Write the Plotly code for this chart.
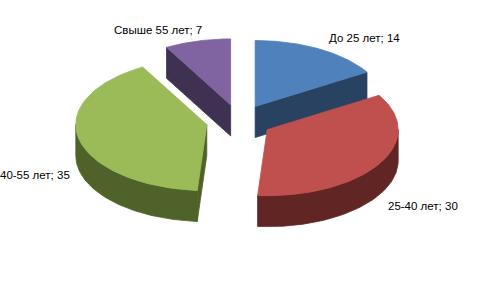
import numpy as np
import plotly.graph_objects as go

# Data
categories = ["До 25 лет", "25-40 лет", "40-55 лет", "Свыше 55 лет"]
values = [14, 30, 35, 7]

top_colors = ["#4F81BD", "#C0504D", "#9BBB59", "#8064A2"]
side_colors = ["#2A4262", "#612624", "#4F6229", "#3F3152"]

# Geometry of the projected 3D pie (pixel units)
W, H = 491, 287
CX, CY = 239, 121
RX, RY = 131, 66
DEPTH = 31
EXPLODE = 33
K = RY / RX

# Label positions (layout): x, y, anchor, pixel shift
label_pos = [(364, 38, "center", 0), (423, 206, "center", 0), (0, 175, "left", -2), (158, 30, "center", 0)]

total = sum(values)
angles = np.cumsum([0] + [v / total * 360 for v in values])

fig = go.Figure()


def pt(cx, cy, th, dz=0.0):
    r = np.radians(th)
    return cx + RX * np.sin(r), cy - RY * np.cos(r) + dz


def add_poly(xs, ys, color):
    fig.add_trace(go.Scatter(x=list(xs) + [xs[0]], y=list(ys) + [ys[0]], mode="lines",
                             fill="toself", fillcolor=color,
                             line=dict(color=color, width=0.8),
                             hoverinfo="skip", showlegend=False))


# drawing order: back slices first
order = sorted(range(len(values)),
               key=lambda i: -np.cos(np.radians((angles[i] + angles[i + 1]) / 2)))

for i in order:
    a0, a1 = angles[i], angles[i + 1]
    mid = np.radians((a0 + a1) / 2)
    cx = CX + EXPLODE * np.sin(mid)
    cy = CY - EXPLODE * K * np.cos(mid)
    sc = side_colors[i]
    # outer rim (front portion 90..270)
    lo, hi = max(a0, 90), min(a1, 270)
    if hi > lo:
        th = np.linspace(lo, hi, 60)
        tx, ty = pt(cx, cy, th)
        bx, by = pt(cx, cy, th, DEPTH)
        add_poly(np.concatenate([tx, bx[::-1]]), np.concatenate([ty, by[::-1]]), sc)
    # radial faces
    if np.sin(np.radians(a0)) < -1e-6:
        rx_, ry_ = pt(cx, cy, a0)
        add_poly([cx, rx_, rx_, cx], [cy, ry_, ry_ + DEPTH, cy + DEPTH], sc)
    if np.sin(np.radians(a1)) > 1e-6:
        rx_, ry_ = pt(cx, cy, a1)
        add_poly([cx, rx_, rx_, cx], [cy, ry_, ry_ + DEPTH, cy + DEPTH], sc)
    # top face
    th = np.linspace(a0, a1, 80)
    tx, ty = pt(cx, cy, th)
    add_poly(np.concatenate([[cx], tx]), np.concatenate([[cy], ty]), top_colors[i])

for i, (lx, ly, anc, sh) in enumerate(label_pos):
    fig.add_annotation(x=lx, y=ly, text=f"{categories[i]}; {values[i]}", showarrow=False,
                       xanchor=anc, yanchor="middle", xshift=sh,
                       font=dict(family="Liberation Sans, Arial, sans-serif", size=11.5, color="#000000"))

fig.update_layout(width=W, height=H, margin=dict(l=0, r=0, t=0, b=0),
                  paper_bgcolor="white", plot_bgcolor="white",
                  xaxis=dict(range=[0, W], visible=False, fixedrange=True),
                  yaxis=dict(range=[H, 0], visible=False, fixedrange=True),
                  showlegend=False)

fig.write_html("out.html")
